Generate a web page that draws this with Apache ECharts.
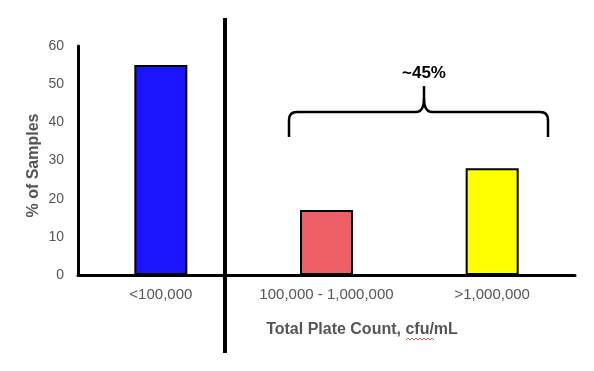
<!DOCTYPE html>
<html><head><meta charset="utf-8">
<script src="https://cdn.jsdelivr.net/npm/echarts@6/dist/echarts.min.js"></script>
<style>html,body{margin:0;padding:0;background:#fff}#c{width:594px;height:371px}</style>
</head><body><div id="c"></div>
<script>
var categories = ['<100,000', '100,000 - 1,000,000', '>1,000,000'];
var values = [55, 17, 28];
var barColors = ['#1a14ff', '#ee5f66', '#ffff00'];
var yTicks = [0, 10, 20, 30, 40, 50, 60];

var chart = echarts.init(document.getElementById('c'), null, {renderer: 'canvas'});
var font = 'Liberation Sans, Arial, sans-serif';
var bs = {fill: 'none', stroke: '#000', lineWidth: 2.5};
chart.setOption({
  animation: false,
  grid: {left: 78, right: 19, top: 46, bottom: 96},
  xAxis: {
    type: 'category', data: categories,
    axisLine: {lineStyle: {color: '#000', width: 3}},
    axisTick: {show: false},
    axisLabel: {color: '#555', fontSize: 15, fontFamily: font, margin: 12, interval: 0}
  },
  yAxis: {
    type: 'value', min: yTicks[0], max: yTicks[yTicks.length - 1], interval: 10,
    name: '% of Samples', nameLocation: 'middle', nameGap: 36, nameMoveOverlap: false,
    nameTextStyle: {color: '#555', fontSize: 16, fontWeight: 'bold', fontFamily: font, padding: [0, 0, 0, -10]},
    axisLine: {show: true, lineStyle: {color: '#000', width: 3}},
    axisTick: {show: false},
    splitLine: {show: false},
    axisLabel: {color: '#555', fontSize: 14, fontFamily: font, margin: 14}
  },
  series: [{
    type: 'bar', barWidth: '32%',
    data: values.map(function (v, i) {
      return {value: v, itemStyle: {color: barColors[i], borderColor: '#000', borderWidth: 2}};
    })
  }],
  graphic: [
    {type: 'line', shape: {x1: 225, y1: 18, x2: 225, y2: 353}, style: {stroke: '#000', lineWidth: 4}},
    {type: 'line', shape: {x1: 289, y1: 137, x2: 289, y2: 120}, style: bs},
    {type: 'bezierCurve', shape: {x1: 289, y1: 120, x2: 297, y2: 112, cpx1: 289, cpy1: 112}, style: bs},
    {type: 'line', shape: {x1: 297, y1: 112, x2: 416, y2: 112}, style: bs},
    {type: 'bezierCurve', shape: {x1: 416, y1: 112, x2: 424, y2: 98, cpx1: 424, cpy1: 112}, style: bs},
    {type: 'line', shape: {x1: 424, y1: 98, x2: 424, y2: 86}, style: bs},
    {type: 'bezierCurve', shape: {x1: 424, y1: 98, x2: 432, y2: 112, cpx1: 424, cpy1: 112}, style: bs},
    {type: 'line', shape: {x1: 432, y1: 112, x2: 540, y2: 112}, style: bs},
    {type: 'bezierCurve', shape: {x1: 540, y1: 112, x2: 548, y2: 120, cpx1: 548, cpy1: 112}, style: bs},
    {type: 'line', shape: {x1: 548, y1: 120, x2: 548, y2: 137}, style: bs},
    {type: 'text', style: {x: 424, y: 73, text: '~45%', fontSize: 17, fontWeight: 'bold', fontFamily: font, fill: '#000', textAlign: 'center', textVerticalAlign: 'middle'}},
    {type: 'text', style: {x: 362, y: 330, text: 'Total Plate Count, cfu/mL', fontSize: 16, fontWeight: 'bold', fontFamily: font, fill: '#555', textAlign: 'center', textVerticalAlign: 'middle'}},
    {type: 'polyline', shape: {points: [[406,340],[408,338],[410,340],[412,338],[414,340],[416,338],[418,340],[420,338],[422,340],[424,338],[426,340],[428,338],[430,340],[432,338],[434,340]]}, style: {stroke: '#e03030', lineWidth: 0.8, fill: 'none'}}
  ]
});
</script></body></html>
